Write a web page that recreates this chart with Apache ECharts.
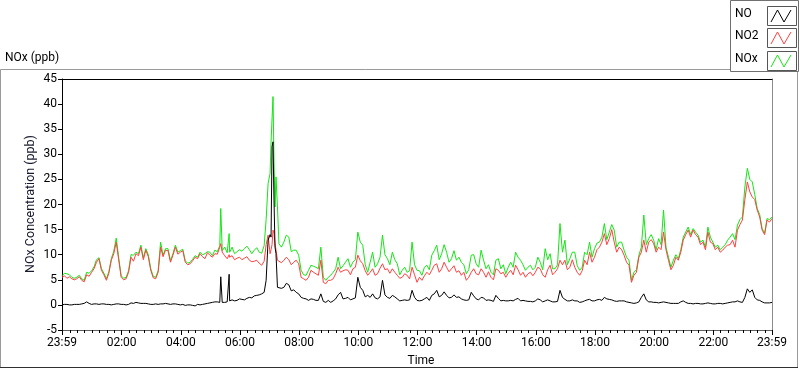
<!DOCTYPE html>
<html>
<head>
<meta charset="utf-8" />
<title>NOx (ppb)</title>
<style>
  html, body { margin: 0; padding: 0; background: #fff; }
  #main { width: 800px; height: 369px; }
</style>
</head>
<body>
<div id="main"></div>
<script src="https://cdn.jsdelivr.net/npm/echarts@6/dist/echarts.min.js"></script>
<script>
// minutes after the 23:59 start (5 min steps, a few extra around short spikes)
const times = [
  0, 5, 10, 15, 20, 25, 30, 35, 40, 45, 50, 55, 60, 65, 70, 75, 80, 85, 90, 95,
  100, 105, 110, 115, 120, 125, 130, 135, 140, 145, 150, 155, 160, 165, 170, 175, 180, 185, 190, 195,
  200, 205, 210, 215, 220, 225, 230, 235, 240, 245, 250, 255, 260, 265, 270, 275, 280, 285, 290, 295,
  300, 305, 310, 315, 320, 322, 325, 330, 335, 339, 340, 345, 350, 355, 360, 365, 370, 375, 380, 385,
  390, 395, 400, 405, 410, 414, 418, 422, 424, 426, 428, 430, 432, 434, 437, 440, 445, 450, 455, 460,
  465, 470, 475, 480, 485, 490, 495, 500, 505, 510, 515, 520, 525, 530, 535, 540, 545, 550, 555, 560,
  565, 570, 575, 580, 585, 590, 595, 600, 605, 610, 615, 620, 625, 630, 635, 640, 645, 650, 655, 660,
  665, 670, 675, 680, 685, 690, 695, 700, 705, 710, 715, 720, 725, 730, 735, 740, 745, 750, 755, 760,
  765, 770, 775, 780, 785, 790, 795, 800, 805, 810, 815, 820, 825, 830, 835, 840, 845, 850, 855, 860,
  865, 870, 875, 880, 885, 890, 895, 900, 905, 910, 915, 920, 925, 930, 935, 940, 945, 950, 955, 960,
  965, 970, 975, 980, 985, 990, 995, 1000, 1005, 1010, 1015, 1020, 1025, 1030, 1035, 1040, 1045, 1050, 1055, 1060,
  1065, 1070, 1075, 1080, 1085, 1090, 1095, 1100, 1105, 1110, 1115, 1120, 1125, 1130, 1135, 1140, 1145, 1150, 1155, 1160,
  1165, 1170, 1175, 1180, 1185, 1190, 1195, 1200, 1205, 1210, 1215, 1220, 1225, 1230, 1235, 1240, 1245, 1250, 1255, 1260,
  1265, 1270, 1275, 1280, 1285, 1290, 1295, 1300, 1305, 1310, 1315, 1320, 1325, 1330, 1335, 1340, 1345, 1350, 1355, 1360,
  1365, 1370, 1375, 1380, 1385, 1390, 1395, 1400, 1405, 1410, 1415, 1420, 1425, 1430, 1435, 1440
];

const no = [
  0.0, 0.1, 0.1, 0.0, 0.0, 0.1, 0.1, 0.1, 0.2, 0.3, 0.6, 0.3, 0.1, 0.2, 0.2, 0.1, 0.2, 0.2, 0.1, 0.1,
  0.0, 0.1, 0.2, 0.2, 0.1, 0.1, 0.0, 0.1, 0.4, 0.3, 0.5, 0.4, 0.3, 0.3, 0.3, 0.2, 0.1, 0.1, 0.2, 0.1,
  0.2, 0.2, 0.3, 0.2, 0.1, 0.2, 0.2, 0.1, 0.0, 0.1, -0.1, 0.0, 0.0, -0.1, -0.2, 0.1, 0.0, 0.1, 0.2, 0.3,
  0.4, 0.5, 0.6, 0.6, 0.5, 5.6, 0.5, 0.5, 0.6, 6.1, 0.8, 1.0, 0.8, 0.9, 1.2, 1.1, 1.0, 1.3, 1.5, 1.4,
  1.8, 1.9, 2.0, 2.2, 2.5, 4.9, 12.9, 14.0, 13.5, 31.5, 32.5, 20.9, 11.5, 10.2, 3.5, 3.2, 3.3, 3.5, 4.3, 4.0,
  2.8, 3.0, 2.5, 2.2, 1.5, 1.3, 1.2, 0.9, 1.2, 1.1, 0.9, 0.9, 2.2, 0.7, 0.5, 0.9, 0.5, 0.8, 1.2, 2.0,
  2.5, 1.2, 1.3, 1.5, 1.0, 1.2, 1.4, 5.5, 3.5, 2.9, 1.6, 1.9, 1.5, 2.2, 1.4, 1.2, 1.6, 4.9, 2.0, 1.5,
  1.3, 1.9, 1.6, 1.2, 0.8, 0.9, 1.0, 0.9, 1.0, 2.9, 1.5, 0.9, 0.8, 0.9, 1.2, 1.5, 0.9, 1.9, 2.2, 2.9,
  1.6, 1.9, 2.6, 1.9, 1.4, 1.5, 2.0, 1.5, 1.6, 1.2, 1.0, 0.9, 1.0, 2.5, 1.8, 1.2, 1.0, 1.5, 1.4, 0.9,
  1.0, 0.9, 0.7, 1.9, 1.3, 0.8, 0.9, 0.8, 0.8, 0.9, 0.8, 1.1, 1.3, 0.8, 0.9, 0.8, 0.7, 0.7, 0.6, 0.8,
  1.2, 1.0, 0.6, 0.8, 1.0, 0.8, 0.6, 0.6, 0.7, 2.9, 1.5, 1.1, 0.8, 0.8, 1.0, 0.8, 0.8, 0.5, 0.6, 0.8,
  1.0, 1.1, 0.8, 0.8, 1.0, 1.1, 0.9, 1.5, 1.2, 1.1, 1.0, 0.8, 0.7, 0.8, 0.8, 0.8, 0.6, 0.5, 0.4, 0.3,
  0.4, 0.6, 1.5, 2.2, 1.0, 0.6, 0.6, 0.5, 0.5, 0.4, 0.5, 0.6, 0.5, 0.4, 0.3, 0.3, 0.3, 0.3, 0.6, 0.8,
  0.5, 0.3, 0.3, 0.2, 0.3, 0.3, 0.2, 0.2, 0.3, 0.4, 0.3, 0.2, 0.2, 0.3, 0.3, 0.2, 0.3, 0.4, 0.5, 0.6,
  0.6, 0.8, 0.6, 0.5, 1.5, 3.2, 2.5, 3.0, 1.5, 1.0, 0.9, 0.6, 0.4, 0.4, 0.4, 0.5
];

const no2 = [
  5.5, 5.8, 5.3, 5.6, 5.2, 5.0, 5.2, 5.6, 4.9, 4.6, 6.0, 5.7, 6.5, 7.2, 8.5, 9.2, 6.9, 6.0, 4.9, 6.3,
  8.9, 10.2, 12.5, 9.0, 5.5, 5.0, 5.2, 6.5, 9.5, 8.7, 10.2, 9.8, 11.5, 9.0, 10.9, 9.6, 6.9, 5.4, 5.2, 6.5,
  11.5, 9.6, 10.9, 10.8, 8.5, 9.9, 11.5, 10.1, 10.5, 10.8, 8.5, 8.0, 8.2, 8.8, 9.5, 9.2, 10.2, 9.6, 9.2, 10.4,
  9.9, 9.5, 10.2, 10.1, 11.5, 12.2, 10.5, 9.8, 9.2, 10.0, 9.5, 9.8, 9.0, 9.3, 9.5, 9.0, 9.3, 9.6, 8.9, 8.6,
  8.7, 8.9, 8.3, 7.9, 8.7, 12.0, 13.9, 10.2, 11.0, 12.0, 14.9, 14.2, 12.2, 11.0, 8.9, 9.2, 8.4, 8.9, 9.5, 9.0,
  8.0, 8.5, 8.9, 8.2, 5.5, 5.2, 4.9, 5.5, 6.9, 6.5, 6.2, 5.9, 8.9, 4.5, 4.2, 4.9, 4.9, 5.2, 6.2, 7.5,
  6.5, 6.8, 7.0, 6.9, 6.0, 7.2, 7.5, 9.9, 8.8, 8.2, 6.8, 5.9, 6.5, 7.2, 5.9, 6.2, 7.3, 8.2, 7.0, 7.2,
  6.3, 7.2, 6.5, 5.9, 5.3, 5.5, 6.2, 5.9, 5.2, 7.5, 6.0, 4.5, 5.5, 4.9, 5.8, 6.5, 6.0, 6.9, 7.9, 8.2,
  6.5, 7.2, 8.5, 7.5, 6.6, 7.2, 7.8, 6.5, 6.8, 5.9, 6.5, 4.9, 5.5, 6.5, 7.2, 6.2, 6.0, 7.2, 6.5, 5.5,
  6.6, 5.5, 5.0, 7.2, 6.9, 6.2, 6.5, 5.5, 6.3, 6.9, 6.0, 7.9, 7.0, 5.9, 6.5, 5.5, 6.2, 6.5, 5.8, 6.5,
  7.5, 7.2, 6.0, 5.5, 7.0, 7.9, 6.0, 6.5, 7.2, 8.9, 8.0, 8.9, 7.0, 7.5, 9.0, 7.5, 6.5, 5.9, 6.8, 8.9,
  8.0, 10.5, 8.5, 9.5, 11.0, 11.5, 12.5, 14.2, 12.0, 13.2, 15.0, 12.5, 10.5, 11.5, 11.0, 9.9, 8.5, 7.9, 4.5, 5.9,
  6.5, 9.5, 10.5, 12.9, 10.5, 12.5, 13.0, 12.2, 10.5, 11.5, 11.0, 14.5, 11.0, 8.9, 7.0, 7.9, 9.5, 8.9, 10.5, 12.9,
  14.0, 14.9, 13.5, 14.9, 14.0, 13.5, 12.0, 12.5, 11.0, 14.5, 12.5, 12.2, 11.0, 11.5, 10.5, 10.9, 11.5, 11.9, 12.0, 12.9,
  11.5, 14.9, 16.0, 16.9, 21.0, 24.5, 22.5, 21.5, 21.0, 18.9, 17.5, 14.9, 14.0, 16.9, 16.5, 17.2
];

const nox = [
  5.8, 6.3, 6.2, 6.0, 5.5, 5.3, 5.5, 5.9, 5.2, 4.9, 6.5, 6.3, 6.8, 7.6, 9.0, 9.4, 7.2, 6.3, 5.2, 6.6,
  9.2, 10.7, 13.3, 9.4, 5.8, 5.3, 5.5, 6.8, 10.0, 9.9, 10.5, 10.2, 11.9, 9.4, 11.2, 10.0, 7.2, 5.7, 5.5, 6.8,
  12.5, 9.9, 11.2, 11.2, 8.8, 10.2, 11.9, 10.5, 10.8, 11.1, 8.8, 8.3, 8.5, 9.1, 9.8, 9.5, 10.5, 10.0, 10.2, 10.6,
  10.5, 9.8, 10.9, 10.6, 11.8, 19.2, 10.8, 11.5, 10.4, 14.2, 10.5, 11.5, 10.2, 10.6, 11.0, 10.7, 11.2, 11.7, 11.0, 10.2,
  10.9, 11.4, 10.5, 10.3, 11.8, 17.0, 24.2, 26.2, 32.5, 32.5, 41.5, 28.5, 19.5, 25.5, 19.5, 12.2, 11.5, 12.5, 13.9, 13.5,
  10.6, 10.9, 10.9, 9.9, 6.9, 6.0, 5.9, 6.9, 7.9, 7.7, 7.5, 7.2, 11.5, 5.5, 4.9, 5.5, 5.9, 6.5, 7.2, 9.5,
  7.2, 7.8, 8.5, 9.2, 7.5, 8.5, 9.0, 14.5, 12.5, 11.9, 8.0, 6.5, 8.5, 10.5, 7.5, 8.2, 9.5, 13.9, 10.0, 9.2,
  8.0, 10.5, 9.0, 8.2, 6.0, 6.9, 7.5, 6.5, 6.8, 12.5, 8.0, 6.9, 6.8, 5.9, 7.5, 7.9, 7.0, 9.9, 10.8, 11.9,
  9.0, 10.2, 12.0, 10.5, 8.5, 9.2, 10.8, 8.9, 9.5, 8.5, 8.0, 6.2, 7.0, 9.9, 10.0, 8.2, 7.5, 10.9, 8.9, 7.2,
  8.0, 6.5, 6.0, 8.9, 9.2, 7.2, 8.0, 6.2, 7.5, 8.5, 7.5, 10.5, 9.5, 8.9, 8.0, 6.9, 7.5, 7.9, 7.0, 7.5,
  9.5, 8.5, 7.0, 11.2, 9.0, 10.2, 7.2, 7.2, 8.0, 16.2, 10.5, 12.9, 8.0, 9.2, 10.5, 10.5, 7.8, 6.9, 7.5, 10.5,
  10.0, 12.5, 9.5, 11.2, 12.3, 12.5, 13.5, 16.2, 13.0, 14.5, 16.0, 14.9, 11.5, 12.5, 12.5, 10.9, 9.5, 8.9, 4.9, 6.5,
  7.0, 9.9, 11.5, 17.9, 12.0, 13.2, 14.0, 12.9, 11.0, 13.2, 12.0, 18.9, 11.5, 9.5, 7.5, 8.9, 10.0, 9.2, 11.0, 13.5,
  14.5, 15.5, 14.0, 15.2, 14.5, 13.9, 12.5, 12.9, 11.5, 15.5, 13.5, 12.5, 11.5, 11.9, 11.0, 11.5, 12.0, 12.9, 13.5, 14.2,
  13.0, 15.9, 17.0, 17.5, 23.5, 27.2, 25.0, 24.5, 22.0, 19.2, 18.0, 15.2, 14.3, 17.2, 17.0, 17.5
];

// labelled ticks (minutes after 23:59) and quarter-hour minor ticks
const majorTicks = [0, 121, 241, 361, 481, 601, 721, 841, 961, 1081, 1201, 1321, 1440];
const minorTicks = [];
for (let m = 16; m < 1440; m += 15) minorTicks.push(m);

const seriesNames = ['NO', 'NO2', 'NOx'];
const seriesColors = ['#000000', '#ff4040', '#14e614'];

const font = 'Roboto, "Noto Sans", sans-serif';

function clock(v) {
  const m = (23 * 60 + 59 + v) % 1440;
  const h = Math.floor(m / 60);
  const mm = m % 60;
  return String(h).padStart(2, '0') + ':' + String(mm).padStart(2, '0');
}

function pairs(vals) {
  return times.map((t, i) => [t, vals[i]]);
}

// legend drawn as boxes with a small zigzag, like the original panel
const legendGraphics = [
  { type: 'rect', shape: { x: 730.5, y: 0.5, width: 68, height: 71 },
    style: { fill: '#fff', stroke: '#707070', lineWidth: 1 }, z: 10 }
];
seriesNames.forEach((name, i) => {
  const y0 = Math.round(5.5 + i * 22.7);
  legendGraphics.push(
    { type: 'text', left: 735, top: y0 + 2, z: 11,
      style: { text: name, fill: '#000', font: '12px ' + font } },
    { type: 'rect', shape: { x: 767.5, y: y0 + 0.5, width: 29, height: 19 },
      style: { fill: '#fff', stroke: '#555', lineWidth: 1 }, z: 11 },
    { type: 'polyline', z: 12,
      shape: { points: [[771, y0 + 16], [777.5, y0 + 4], [784, y0 + 16], [791, y0 + 4]] },
      style: { stroke: seriesColors[i], lineWidth: 1, fill: 'none' } }
  );
});

const chart = echarts.init(document.getElementById('main'), null, { renderer: 'canvas' });

chart.setOption({
  animation: false,
  backgroundColor: '#fff',
  textStyle: { fontFamily: font },
  grid: { left: 62, right: 28, top: 79, bottom: 39, containLabel: false },
  graphic: [
    // outer panel frame
    { type: 'polyline', shape: { points: [[0.5, 368], [0.5, 69.5], [730, 69.5]] },
      style: { stroke: '#9a9a9a', lineWidth: 1, fill: 'none' } },
    { type: 'line', shape: { x1: 797.5, y1: 72, x2: 797.5, y2: 368 }, style: { stroke: '#9a9a9a', lineWidth: 1 } },
    { type: 'line', shape: { x1: 0, y1: 367.5, x2: 798, y2: 367.5 }, style: { stroke: '#303030', lineWidth: 1 } },
    { type: 'text', left: 5, top: 52, style: { text: 'NOx (ppb)', fill: '#000', font: '12px ' + font } },
    // axis titles
    { type: 'text', x: 421, y: 361,
      style: { text: 'Time', fill: '#000', font: '12px ' + font, align: 'center', verticalAlign: 'middle' } },
    { type: 'text', x: 31, y: 204, rotation: Math.PI / 2,
      style: { text: 'NOx Concentration (ppb)', fill: '#1a1a2e', font: '12.5px ' + font,
               align: 'center', verticalAlign: 'middle' } },
    ...legendGraphics
  ],
  xAxis: [
    {
      type: 'value', min: 0, max: 1440, position: 'bottom',
      axisLine: { show: true, onZero: false, lineStyle: { color: '#606060' } },
      axisTick: { show: true, length: 5, customValues: majorTicks, lineStyle: { color: '#000' } },
      axisLabel: { customValues: majorTicks, formatter: clock, color: '#000', fontSize: 12, margin: 7 },
      splitLine: { show: false }
    },
    {
      type: 'value', min: 0, max: 1440, position: 'bottom',
      axisLine: { show: false, onZero: false },
      axisTick: { show: true, length: 3, customValues: minorTicks, lineStyle: { color: '#000' } },
      axisLabel: { show: false },
      splitLine: { show: false }
    },
    {
      type: 'value', min: 0, max: 1440, position: 'top',
      axisLine: { show: true, onZero: false, lineStyle: { color: '#000' } },
      axisTick: { show: false }, axisLabel: { show: false }, splitLine: { show: false }
    }
  ],
  yAxis: [
    {
      type: 'value', min: -5, max: 45, interval: 5, position: 'left',
      axisLine: { show: true, onZero: false, lineStyle: { color: '#000' } },
      axisTick: { show: true, length: 4, lineStyle: { color: '#000' } },
      axisLabel: { color: '#000', fontSize: 12, margin: 5 },
      splitLine: { show: false }
    },
    {
      type: 'value', min: -5, max: 45, position: 'right',
      axisLine: { show: true, onZero: false, lineStyle: { color: '#8c8c8c' } },
      axisTick: { show: false }, axisLabel: { show: false }, splitLine: { show: false }
    }
  ],
  series: [
    { name: 'NOx', type: 'line', data: pairs(nox), showSymbol: false, z: 2,
      lineStyle: { color: seriesColors[2], width: 1 }, itemStyle: { color: seriesColors[2] } },
    { name: 'NO2', type: 'line', data: pairs(no2), showSymbol: false, z: 3,
      lineStyle: { color: seriesColors[1], width: 1 }, itemStyle: { color: seriesColors[1] } },
    { name: 'NO', type: 'line', data: pairs(no), showSymbol: false, z: 4,
      lineStyle: { color: seriesColors[0], width: 1 }, itemStyle: { color: seriesColors[0] } }
  ]
});
</script>
</body>
</html>
